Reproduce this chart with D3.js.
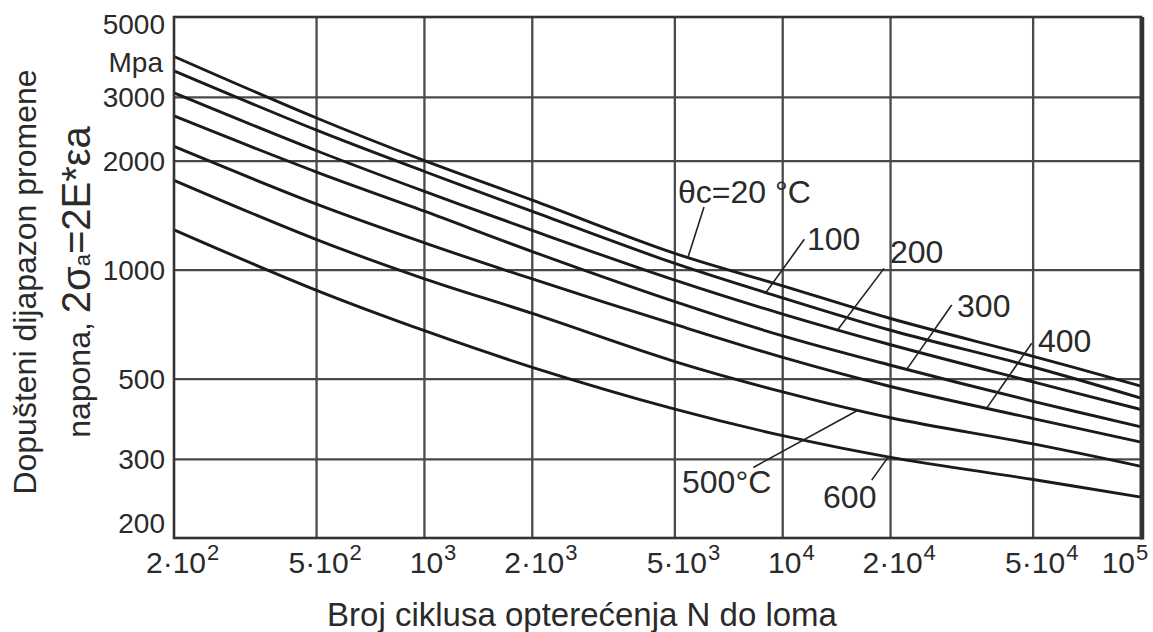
<!DOCTYPE html>
<html><head><meta charset="utf-8">
<script src="https://cdn.jsdelivr.net/npm/d3@7"></script>
<style>
html,body{margin:0;padding:0;background:#fff;}
svg{display:block;font-family:"Liberation Sans",Arial,sans-serif;}
</style></head><body>
<svg id="chart" width="1153" height="632"></svg>
<script>
// ---- data ----
const cycles = [200, 500, 1000, 2000, 5000, 10000, 20000, 50000, 100000];
const t20  = [3890, 2630, 2005, 1560, 1112, 905, 735, 578, 478];
const t100 = [3550, 2434, 1872, 1452, 1043, 838, 682, 540, 443];
const t200 = [3085, 2136, 1649, 1287, 938, 756, 622, 491, 412];
const t300 = [2665, 1865, 1454, 1125, 818, 658, 546, 434, 369];
const t400 = [2195, 1521, 1189, 945, 708, 574, 477, 389, 335];
const t500 = [1770, 1214, 946, 759, 559, 461, 391, 331, 287];
const t600 = [1292, 879, 680, 539, 413, 349, 304, 264, 236];
const seriesList = [t20, t100, t200, t300, t400, t500, t600];

const xTicks = [200, 500, 1000, 2000, 5000, 10000, 20000, 50000, 100000];
const xTickBase = ["2·10", "5·10", "10", "2·10", "5·10", "10", "2·10", "5·10", "10"];
const xTickExp  = ["2", "2", "3", "3", "3", "4", "4", "4", "5"];
const xGrid = [500, 1000, 2000, 5000, 10000, 20000, 50000];
const yTicks = [5000, 3000, 2000, 1000, 500, 300, 200];
const yGrid = [3000, 2000, 1000, 500, 300];
const unitLabel = {text: "Mpa", at: 3750};

// curve labels: text position (N, MPa), leader start (N, MPa), leader end N on the curve
const curveLabels = [
  {text: "θc=20 °C", s: 0, tx: 5100,  ty: 1532, lx: 6030,  ly: 1493, at: 5440},
  {text: "100",      s: 1, tx: 11690, ty: 1136, lx: 11490, ly: 1216, at: 8980},
  {text: "200",      s: 2, tx: 19930, ty: 1046, lx: 19180, ly: 1011, at: 14240},
  {text: "300",      s: 3, tx: 30660, ty: 742,  lx: 29630, ly: 801,  at: 22190},
  {text: "400",      s: 4, tx: 51590, ty: 594,  lx: 49540, ly: 628,  at: 37100},
  {text: "500°C",    s: 5, tx: 5235,  ty: 242,  lx: 8277,  ly: 285,  at: 16260},
  {text: "600",      s: 6, tx: 12960, ty: 220,  lx: 17720, ly: 263,  at: 19710}
];

const xTitle = "Broj ciklusa opterećenja N do loma";
const yTitle1 = "Dopušteni dijapazon promene";

// ---- drawing ----
const svg = d3.select("#chart");
const x = d3.scaleLog().domain([200, 100000]).range([174, 1141]);
const y = d3.scaleLog().domain([182, 5000]).range([538, 17]);
const textColor = "#2a2a2a";

function valueAt(vals, n) {
  const ln = Math.log10(n);
  for (let i = 0; i < cycles.length - 1; i++) {
    const a = Math.log10(cycles[i]), b = Math.log10(cycles[i + 1]);
    if (ln >= a && ln <= b) {
      const t = (ln - a) / (b - a);
      return Math.pow(10, Math.log10(vals[i]) * (1 - t) + Math.log10(vals[i + 1]) * t);
    }
  }
  return vals[vals.length - 1];
}

// grid
const g = svg.append("g");
g.selectAll(".vg").data(xGrid).join("line")
  .attr("x1", d => x(d)).attr("x2", d => x(d))
  .attr("y1", y.range()[0]).attr("y2", y.range()[1])
  .attr("stroke", "#4a4a4a").attr("stroke-width", 2.3);
g.selectAll(".hg").data(yGrid).join("line")
  .attr("y1", d => y(d)).attr("y2", d => y(d))
  .attr("x1", x.range()[0]).attr("x2", x.range()[1])
  .attr("stroke", "#4a4a4a").attr("stroke-width", 2.3);

// curves
const line = d3.line()
  .x(d => x(d[0])).y(d => y(d[1]))
  .curve(d3.curveCatmullRom.alpha(0.5));
svg.append("g").selectAll("path").data(seriesList).join("path")
  .attr("d", vals => line(cycles.map((c, i) => [c, vals[i]])))
  .attr("fill", "none").attr("stroke", "#1a1a1a").attr("stroke-width", 2.9);

// frame
svg.append("rect")
  .attr("x", x.range()[0]).attr("y", y.range()[1])
  .attr("width", x.range()[1] - x.range()[0]).attr("height", y.range()[0] - y.range()[1])
  .attr("fill", "none").attr("stroke", "#333").attr("stroke-width", 2.6);
svg.append("line")
  .attr("x1", x.range()[1] + 1).attr("x2", x.range()[1] + 1)
  .attr("y1", y.range()[1]).attr("y2", y.range()[0] + 1.5)
  .attr("stroke", "#333").attr("stroke-width", 4.5);

// y tick labels
svg.append("g").selectAll("text").data(yTicks).join("text")
  .attr("x", x.range()[0] - 9)
  .attr("y", d => y(d) + (d === y.domain()[1] ? 7 : 0))
  .attr("dy", "0.36em")
  .attr("text-anchor", "end")
  .attr("font-size", 28).attr("fill", textColor)
  .text(d => d);
svg.append("text")
  .attr("x", x.range()[0] - 11).attr("y", y(unitLabel.at)).attr("dy", "0.36em")
  .attr("text-anchor", "end").attr("font-size", 28).attr("fill", textColor)
  .text(unitLabel.text);

// x tick labels
const xl = svg.append("g");
xTicks.forEach((t, i) => {
  const last = i === xTicks.length - 1;
  const base = xl.append("text")
    .attr("x", last ? x(t) - 6 : x(t) + 2).attr("y", y.range()[0] + 35)
    .attr("text-anchor", last ? "end" : "middle")
    .attr("font-size", 30).attr("fill", textColor)
    .text(xTickBase[i]);
  const bb = base.node().getBBox();
  xl.append("text")
    .attr("x", bb.x + bb.width + 1).attr("y", y.range()[0] + 22)
    .attr("font-size", 22).attr("fill", textColor)
    .text(xTickExp[i]);
});

// curve labels + leaders
const lab = svg.append("g");
curveLabels.forEach(l => {
  const vals = seriesList[l.s];
  lab.append("line")
    .attr("x1", x(l.lx)).attr("y1", y(l.ly))
    .attr("x2", x(l.at)).attr("y2", y(valueAt(vals, l.at)))
    .attr("stroke", "#222").attr("stroke-width", 1.6);
  lab.append("text")
    .attr("x", x(l.tx)).attr("y", y(l.ty))
    .attr("font-size", 32).attr("fill", textColor)
    .text(l.text);
});

// axis titles
svg.append("text")
  .attr("x", 582).attr("y", 626)
  .attr("text-anchor", "middle").attr("font-size", 33).attr("fill", textColor)
  .text(xTitle);

const cy = 282;
svg.append("text")
  .attr("transform", `translate(36,${cy}) rotate(-90)`)
  .attr("text-anchor", "middle").attr("font-size", 32).attr("fill", textColor)
  .text(yTitle1);

const t2 = svg.append("text")
  .attr("transform", `translate(90,${cy}) rotate(-90)`)
  .attr("text-anchor", "middle").attr("fill", textColor);
t2.append("tspan").attr("font-size", 32).text("napona, ");
t2.append("tspan").attr("font-size", 40).text("2σ");
t2.append("tspan").attr("font-size", 22).text("a");
t2.append("tspan").attr("font-size", 40).text("=2E*εa");
</script>
</body></html>
